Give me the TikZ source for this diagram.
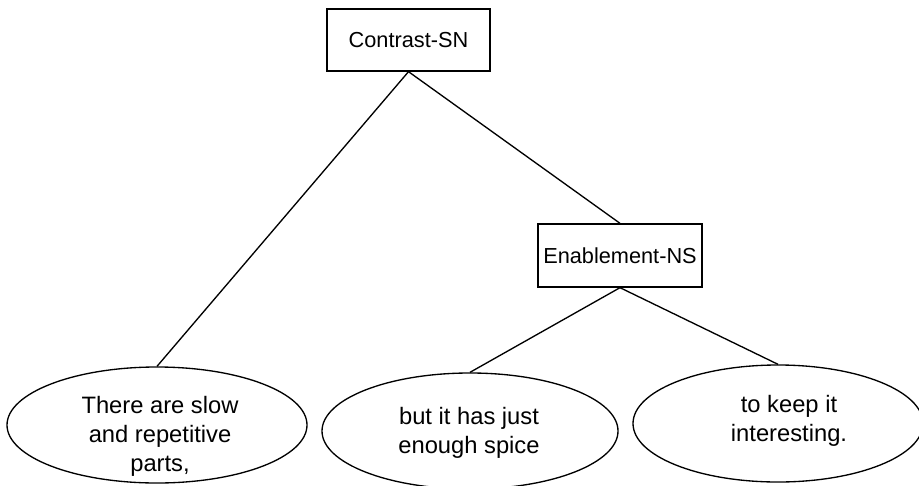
\documentclass[tikz,border=0pt]{standalone}
\usepackage{fontspec}
\setmainfont{Liberation Sans}
\usetikzlibrary{shapes.geometric}
\begin{document}
\begin{tikzpicture}[x=0.75pt,y=-0.75pt,
  relbox/.style={draw, line width=1pt, inner sep=0pt, font=\fontsize{16.3}{19}\selectfont},
  edu/.style={draw, ellipse, line width=1pt, inner sep=0pt},
  edutext/.style={inner sep=0pt, align=center, font=\fontsize{17.8}{21.75}\selectfont},
  link/.style={draw, line width=1pt}]
\useasboundingbox (0,0) rectangle (919,485);
\node[relbox, minimum width=122.25pt, minimum height=46.5pt] (c) at (408.5,40) {Contrast-SN};
\node[relbox, minimum width=123pt, minimum height=47.25pt] (e) at (620,255.5) {Enablement-NS};
\node[edu, minimum width=225pt, minimum height=87pt] (l) at (157,425) {};
\node[edu, minimum width=222pt, minimum height=87pt] (m) at (470,431) {};
\node[edu, minimum width=217.5pt, minimum height=87.75pt] (r) at (778,423.5) {};
\node[edutext] (lt) at (160,435.9) {There are slow\\and repetitive\\parts,};
\node[edutext] (mt) at (469,433.3) {but it has just\\enough spice};
\node[edutext] (rt) at (789,421.3) {to keep it\\interesting.};
\draw[link] (c.south) -- (e.north);
\draw[link] (c.south) -- (l.north);
\draw[link] (e.south) -- (m.north);
\draw[link] (e.south) -- (r.north);
\end{tikzpicture}
\end{document}
